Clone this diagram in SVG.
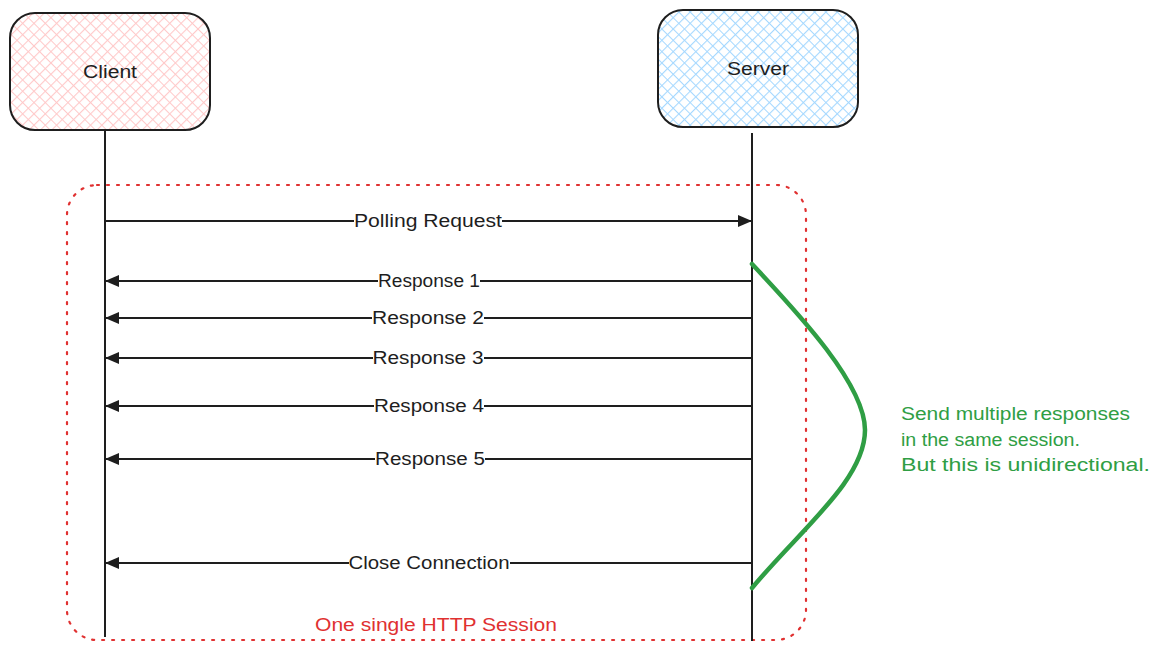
<svg xmlns="http://www.w3.org/2000/svg" width="1160" height="652" viewBox="0 0 1160 652">
<defs>
<pattern id="hatchRed" width="8" height="8" patternUnits="userSpaceOnUse" patternTransform="rotate(45)">
<path d="M0,0 V8 M0,0 H8" stroke="#ffc9c9" stroke-width="2.2" fill="none"/>
</pattern>
<pattern id="hatchBlue" width="8" height="8" patternUnits="userSpaceOnUse" patternTransform="rotate(45)">
<path d="M0,0 V8 M0,0 H8" stroke="#a5d8ff" stroke-width="2.2" fill="none"/>
</pattern>
<marker id="arr" markerWidth="14" markerHeight="12" refX="13" refY="6" orient="auto" markerUnits="userSpaceOnUse">
<path d="M0,0 L14,6 L0,12 Z" fill="#1e1e1e"/>
</marker>
</defs>
<style>
.box{stroke:#1e1e1e;stroke-width:2}
.life{stroke:#1e1e1e;stroke-width:2;fill:none}
.msg{stroke:#1e1e1e;stroke-width:2;fill:none;marker-end:url(#arr)}
.lbl{font-family:"Liberation Sans",Arial,sans-serif;font-size:18px;fill:#1e1e1e;text-anchor:middle}
.bg{fill:#ffffff}
.green{font-family:"Liberation Sans",Arial,sans-serif;font-size:18px;fill:#2f9e44}
.red{font-family:"Liberation Sans",Arial,sans-serif;font-size:18px;fill:#e03131;text-anchor:middle}
</style>
<rect width="1160" height="652" fill="#ffffff"/>

<g id="session">
<rect x="67" y="185" width="739" height="455" rx="30" fill="none" stroke="#e03131" stroke-width="2.2" stroke-dasharray="2 8" stroke-linecap="round"/>
<text class="red" x="436" y="631" textLength="242" lengthAdjust="spacingAndGlyphs">One single HTTP Session</text>
</g>

<g id="client">
<rect class="box" x="10" y="13" width="200" height="117" rx="25" fill="url(#hatchRed)"/>
<text class="lbl" x="110" y="78" textLength="54" lengthAdjust="spacingAndGlyphs">Client</text>
</g>

<g id="server">
<rect class="box" x="658" y="10" width="200" height="117" rx="25" fill="url(#hatchBlue)"/>
<text class="lbl" x="758" y="75" textLength="62" lengthAdjust="spacingAndGlyphs">Server</text>
</g>

<g id="connectors">
<line class="life" x1="105" y1="130" x2="105" y2="637"/>
<line class="life" x1="752" y1="133" x2="752" y2="641"/>
<line class="msg" x1="106" y1="221" x2="751" y2="221"/>
<line class="msg" x1="751" y1="281" x2="106" y2="281"/>
<line class="msg" x1="751" y1="318" x2="106" y2="318"/>
<line class="msg" x1="751" y1="358" x2="106" y2="358"/>
<line class="msg" x1="751" y1="406" x2="106" y2="406"/>
<line class="msg" x1="751" y1="459" x2="106" y2="459"/>
<line class="msg" x1="751" y1="563" x2="106" y2="563"/>
<path d="M752,264 C800,315 865,385 865,430 C865,480 800,530 752,588" fill="none" stroke="#2f9e44" stroke-width="4.5" stroke-linecap="round"/>
</g>

<g id="labels">
<rect class="bg" x="354" y="211" width="148" height="20"/>
<text class="lbl" x="428" y="227" textLength="148" lengthAdjust="spacingAndGlyphs">Polling Request</text>
<rect class="bg" x="378" y="271" width="102" height="20"/>
<text class="lbl" x="429" y="287" textLength="102" lengthAdjust="spacingAndGlyphs">Response 1</text>
<rect class="bg" x="372" y="308" width="112" height="20"/>
<text class="lbl" x="428" y="324" textLength="112" lengthAdjust="spacingAndGlyphs">Response 2</text>
<rect class="bg" x="373" y="348" width="111" height="20"/>
<text class="lbl" x="428" y="364" textLength="111" lengthAdjust="spacingAndGlyphs">Response 3</text>
<rect class="bg" x="374" y="396" width="110" height="20"/>
<text class="lbl" x="429" y="412" textLength="110" lengthAdjust="spacingAndGlyphs">Response 4</text>
<rect class="bg" x="375" y="449" width="110" height="20"/>
<text class="lbl" x="430" y="465" textLength="110" lengthAdjust="spacingAndGlyphs">Response 5</text>
<rect class="bg" x="349" y="553" width="161" height="20"/>
<text class="lbl" x="429" y="569" textLength="161" lengthAdjust="spacingAndGlyphs">Close Connection</text>
</g>

<g id="note">
<text class="green" x="901" y="420" textLength="229" lengthAdjust="spacingAndGlyphs">Send multiple responses</text>
<text class="green" x="901" y="446" textLength="179" lengthAdjust="spacingAndGlyphs">in the same session.</text>
<text class="green" x="901" y="471" textLength="249" lengthAdjust="spacingAndGlyphs">But this is unidirectional.</text>
</g>
</svg>
